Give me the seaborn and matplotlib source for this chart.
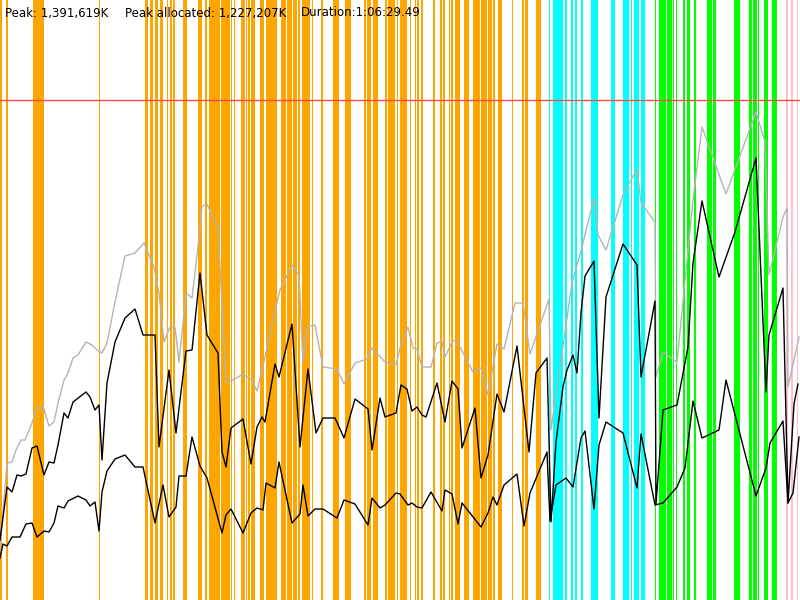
import matplotlib
matplotlib.use("Agg")
import matplotlib.pyplot as plt
import seaborn as sns
import pandas as pd

# time axis: 0..800 (scaled run time), memory: scaled so peak = 500
peak_level = 500

heap_t = [0, 7, 12, 16, 21, 25, 32, 36, 43, 49, 54, 58, 64, 68, 73, 78, 86, 92, 97, 102,
          107, 115, 125, 135, 144, 154, 159, 164, 170, 175, 179, 186, 192, 200, 202, 207, 218, 226, 233, 243,
          252, 257, 265, 272, 280, 292, 299, 303, 307, 315, 323, 337, 344, 355, 367, 372, 385, 396, 400, 408,
          413, 417, 422, 431, 437, 442, 445, 453, 458, 465, 473, 481, 488, 497, 504, 515, 523, 530, 549, 551,
          572, 582, 594, 598, 606, 623, 637, 641, 655, 656, 663, 677, 693, 702, 726, 756, 765, 769, 783, 787,
          788, 799]
heap_v = [52, 137, 138, 150, 160, 160, 177, 190, 194, 174, 178, 197, 220, 227, 242, 245, 258, 255, 250, 247,
          257, 298, 344, 347, 357, 333, 307, 258, 273, 273, 238, 307, 302, 370, 394, 396, 372, 218, 220, 226,
          220, 209, 243, 277, 310, 335, 325, 237, 273, 275, 233, 231, 216, 237, 241, 252, 238, 235, 252, 273,
          252, 251, 233, 233, 257, 258, 243, 260, 257, 243, 228, 232, 205, 256, 251, 297, 297, 246, 301, 170,
          317, 353, 402, 365, 350, 405, 431, 397, 378, 223, 248, 238, 400, 473, 406, 488, 458, 325, 383, 392,
          213, 263]

alloc_t = [0, 7, 12, 17, 21, 26, 32, 37, 44, 49, 54, 58, 64, 68, 73, 86, 90, 95, 99, 102,
           107, 115, 125, 135, 143, 155, 159, 169, 176, 186, 192, 200, 207, 218, 222, 226, 231, 243, 251, 257,
           262, 265, 275, 279, 292, 300, 308, 316, 323, 335, 344, 355, 368, 372, 380, 385, 396, 401, 407, 412,
           417, 422, 426, 437, 445, 452, 458, 462, 475, 481, 488, 497, 504, 517, 529, 536, 547, 551, 556, 563,
           567, 573, 577, 581, 585, 594, 599, 606, 623, 637, 641, 655, 656, 663, 677, 688, 693, 702, 719, 735,
           756, 766, 769, 783, 788, 794, 798]
alloc_v = [60, 113, 108, 125, 124, 126, 152, 154, 125, 138, 137, 155, 187, 182, 198, 208, 203, 190, 195, 140,
           217, 258, 282, 291, 265, 265, 153, 230, 167, 249, 250, 327, 265, 247, 148, 133, 172, 181, 136, 173,
           183, 178, 236, 223, 276, 153, 231, 167, 182, 182, 162, 201, 191, 150, 202, 183, 187, 215, 211, 189,
           193, 185, 183, 217, 178, 219, 211, 152, 192, 122, 145, 206, 188, 254, 148, 227, 242, 78, 158, 213,
           230, 245, 227, 287, 324, 339, 182, 303, 356, 335, 223, 299, 96, 190, 195, 253, 337, 399, 323, 368,
           442, 208, 265, 312, 97, 196, 216]

live_t = [0, 3, 7, 12, 20, 26, 32, 37, 44, 49, 54, 58, 64, 68, 78, 86, 90, 95, 99, 102,
          107, 115, 125, 135, 143, 155, 163, 169, 176, 179, 186, 192, 200, 207, 222, 226, 231, 243, 251, 257,
          263, 266, 275, 279, 292, 300, 303, 308, 315, 323, 337, 344, 355, 368, 372, 380, 385, 396, 400, 408,
          412, 417, 422, 431, 442, 445, 452, 458, 462, 481, 488, 493, 497, 504, 517, 524, 530, 547, 550, 556,
          566, 573, 581, 585, 594, 599, 606, 623, 637, 641, 655, 663, 677, 685, 693, 702, 719, 726, 756, 766,
          770, 783, 788, 793, 799]
live_v = [42, 56, 54, 63, 63, 76, 77, 63, 69, 68, 77, 94, 92, 99, 104, 100, 94, 98, 69, 108,
          129, 141, 145, 133, 133, 77, 115, 83, 93, 124, 124, 163, 134, 122, 67, 85, 91, 67, 87, 92,
          90, 117, 112, 138, 77, 86, 115, 84, 91, 91, 82, 100, 96, 75, 102, 92, 95, 107, 106, 95,
          97, 93, 92, 108, 89, 110, 106, 76, 97, 73, 87, 103, 95, 115, 126, 74, 107, 148, 79, 115,
          122, 113, 162, 169, 91, 155, 178, 167, 112, 166, 95, 97, 113, 132, 199, 162, 170, 220, 104, 132,
          157, 179, 97, 107, 163]

# event bands (start, end)
orange_bands = [(0, 2), (6, 7.5), (33, 43.5), (99, 100), (145, 148), (150, 153), (155, 158), (159.5, 162.5),
                (167, 168), (170, 172), (173, 175), (183, 187), (198, 202), (205, 207), (209, 220), (221, 230),
                (231, 232), (233.5, 235), (241, 245), (246, 247), (248, 250), (251, 255), (260, 264), (266, 277),
                (281, 286), (287, 292), (293, 297), (298, 300), (302, 310), (312, 313), (321, 323), (333, 339),
                (345, 351), (364, 366), (367, 371), (373, 378), (385, 387), (388, 395), (397, 398), (400, 407),
                (410, 411), (414.5, 415.5), (417, 419), (420.5, 422.5), (433, 435), (440, 442), (443, 445),
                (448.5, 449.5), (451, 453), (455, 460), (464, 469), (473, 480), (481, 487), (488, 492), (493, 495),
                (498, 502), (512, 513), (522, 524), (525, 528), (536, 541)]
cyan_bands = [(548.5, 549.5), (553, 563), (565, 567), (571, 573), (575, 577), (581, 583), (591, 598),
              (611, 615), (623, 629), (631, 632), (634, 639), (641, 645)]
green_bands = [(654.5, 655.5), (659, 666), (667, 672), (673, 674), (676, 677), (683, 685), (687, 690),
               (694, 696), (707, 712), (713, 716), (734, 740), (749, 752), (752.5, 757), (758, 759),
               (764, 768), (772, 777)]
pink_bands = [(786, 788), (791, 793), (797, 798)]

header = ["Peak: 1,391,619K", "Peak allocated: 1,227,207K", "Duration:1:06:29.49"]
header_x = [5, 125, 301]

fig = plt.figure(figsize=(8, 6), dpi=100)
ax = fig.add_axes([0, 0, 1, 1])
ax.set_xlim(0, 800)
ax.set_ylim(0, 600)
ax.axis("off")

for bands, col in [(orange_bands, "#FFA500"), (cyan_bands, "#00FFFF"),
                   (green_bands, "#00FF00"), (pink_bands, "#FFC0CB")]:
    for s, e in bands:
        ax.axvspan(s, e, color=col, lw=0, zorder=1)

df_heap = pd.DataFrame({"t": heap_t, "v": heap_v})
df_alloc = pd.DataFrame({"t": alloc_t, "v": alloc_v})
df_live = pd.DataFrame({"t": live_t, "v": live_v})

sns.lineplot(data=df_heap, x="t", y="v", color="#b4b4b4", lw=1.0, estimator=None, sort=False, ax=ax, zorder=3)
sns.lineplot(data=df_alloc, x="t", y="v", color="black", lw=1.0, estimator=None, sort=False, ax=ax, zorder=4)
sns.lineplot(data=df_live, x="t", y="v", color="black", lw=1.0, estimator=None, sort=False, ax=ax, zorder=4)

ax.axhline(peak_level, color="#ff4a4a", lw=1.0, zorder=5)

for txt, x in zip(header, header_x):
    ax.text(x, 587, txt, fontsize=8.5, color="black", va="center", ha="left", zorder=6)

ax.set_xlim(0, 800)
ax.set_ylim(0, 600)
fig.savefig("out.png", dpi=100)
